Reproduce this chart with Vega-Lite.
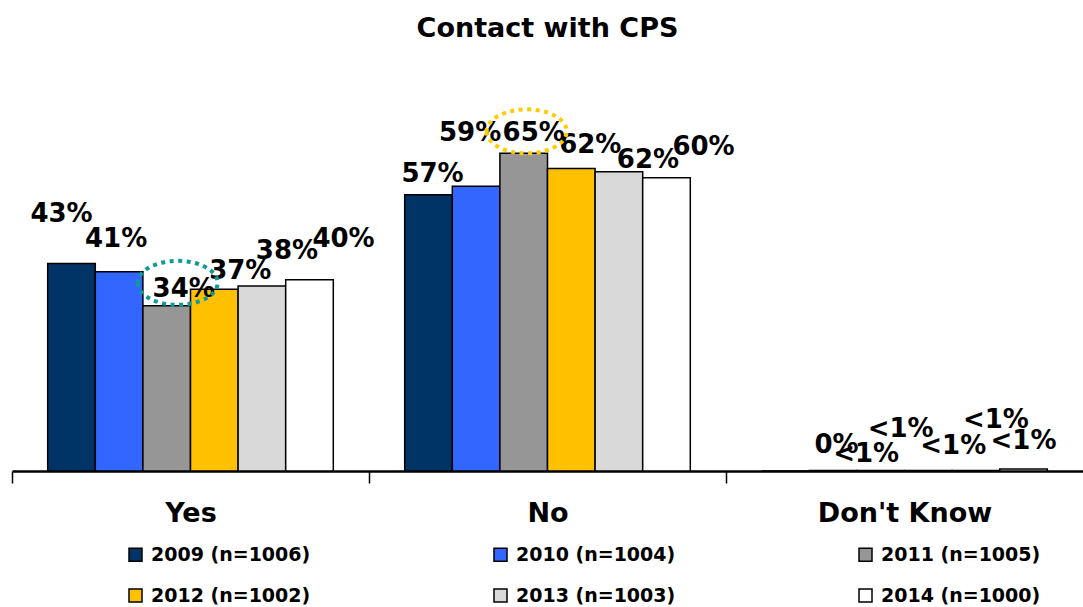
{
  "$schema": "https://vega.github.io/schema/vega-lite/v6.json",
  "width": 1071,
  "height": 340,
  "autosize": {"type": "none"},
  "padding": {"left": 12, "top": 131, "right": 0, "bottom": 136},
  "background": "white",
  "title": {
    "text": "Contact with CPS",
    "font": "DejaVu Sans",
    "fontSize": 27,
    "fontWeight": "bold",
    "color": "black",
    "anchor": "middle",
    "frame": "group",
    "offset": 58
  },
  "config": {"view": {"stroke": null}},
  "data": {
    "values": [
      {"category": "Yes", "year": "2009 (n=1006)", "value": 42.7, "label": "43%"},
      {"category": "Yes", "year": "2010 (n=1004)", "value": 41.0, "label": "41%"},
      {"category": "Yes", "year": "2011 (n=1005)", "value": 34.0, "label": "34%"},
      {"category": "Yes", "year": "2012 (n=1002)", "value": 37.4, "label": "37%"},
      {"category": "Yes", "year": "2013 (n=1003)", "value": 38.1, "label": "38%"},
      {"category": "Yes", "year": "2014 (n=1000)", "value": 39.4, "label": "40%"},
      {"category": "No", "year": "2009 (n=1006)", "value": 56.9, "label": "57%"},
      {"category": "No", "year": "2010 (n=1004)", "value": 58.6, "label": "59%"},
      {"category": "No", "year": "2011 (n=1005)", "value": 65.4, "label": "65%"},
      {"category": "No", "year": "2012 (n=1002)", "value": 62.3, "label": "62%"},
      {"category": "No", "year": "2013 (n=1003)", "value": 61.6, "label": "62%"},
      {"category": "No", "year": "2014 (n=1000)", "value": 60.4, "label": "60%"},
      {"category": "Don't Know", "year": "2009 (n=1006)", "value": 0, "label": "0%"},
      {"category": "Don't Know", "year": "2010 (n=1004)", "value": 0.1, "label": "<1%"},
      {"category": "Don't Know", "year": "2011 (n=1005)", "value": 0.1, "label": "<1%"},
      {"category": "Don't Know", "year": "2012 (n=1002)", "value": 0.1, "label": "<1%"},
      {"category": "Don't Know", "year": "2013 (n=1003)", "value": 0.1, "label": "<1%"},
      {"category": "Don't Know", "year": "2014 (n=1000)", "value": 0.4, "label": "<1%"}
    ]
  },
  "encoding": {
    "x": {
      "field": "category",
      "type": "nominal",
      "sort": ["Yes", "No", "Don't Know"],
      "scale": {"paddingInner": 0.2, "paddingOuter": 0.1},
      "axis": {
        "title": null,
        "labelAngle": 0,
        "labelFont": "DejaVu Sans",
        "labelFontSize": 27,
        "labelFontWeight": "bold",
        "labelColor": "black",
        "labelPadding": 17,
        "labelOffset": 178.5,
        "tickOffset": -178.5,
        "domainColor": "black",
        "domainWidth": 2.5,
        "tickColor": "black",
        "tickWidth": 1.5,
        "tickSize": 12,
        "grid": false
      }
    },
    "xOffset": {
      "field": "year",
      "type": "nominal",
      "scale": {"paddingInner": 0, "paddingOuter": 0}
    },
    "y": {
      "field": "value",
      "type": "quantitative",
      "scale": {"domain": [0, 70]},
      "axis": null
    }
  },
  "layer": [
    {
      "mark": {"type": "bar", "stroke": "black", "strokeWidth": 1.5},
      "encoding": {
        "color": {
          "field": "year",
          "type": "nominal",
          "scale": {
            "domain": ["2009 (n=1006)", "2010 (n=1004)", "2011 (n=1005)", "2012 (n=1002)", "2013 (n=1003)", "2014 (n=1000)"],
            "range": ["#003366", "#3366FF", "#969696", "#FFC000", "#D9D9D9", "#FFFFFF"]
          },
          "legend": {
            "title": null,
            "orient": "none",
            "direction": "horizontal",
            "legendX": 114,
            "legendY": 414,
            "columns": 3,
            "columnPadding": 180,
            "rowPadding": 21,
            "symbolType": "square",
            "symbolSize": 169,
            "symbolStrokeColor": "black",
            "symbolStrokeWidth": 1.5,
            "labelFont": "DejaVu Sans",
            "labelFontSize": 19,
            "labelFontWeight": "bold",
            "labelColor": "black",
            "labelLimit": 400,
            "labelOffset": 6,
            "padding": 0
          }
        }
      }
    },
    {
      "mark": {
        "type": "text",
        "font": "DejaVu Sans",
        "fontSize": 26,
        "fontWeight": "bold",
        "color": "black",
        "baseline": "middle",
        "align": "center",
        "dx": {"expr": "[[-10,-3,17,26,25,34],[4,-6,10,19,29,37],[51,33,20,25,20,0]][datum.category == 'Yes' ? 0 : (datum.category == 'No' ? 1 : 2)][indexof(['2009','2010','2011','2012','2013','2014'], slice(datum.year,0,4))]"},
        "dy": {"expr": "[[-50,-33,-17,-18,-35,-41],[-21,-53,-20,-23,-12,-31],[-26,-17,-42,-25,-51,-28]][datum.category == 'Yes' ? 0 : (datum.category == 'No' ? 1 : 2)][indexof(['2009','2010','2011','2012','2013','2014'], slice(datum.year,0,4))]"}
      },
      "encoding": {"text": {"field": "label"}}
    },
    {
      "transform": [{"filter": "slice(datum.year,0,4) == '2011' && datum.category == 'Yes'"}],
      "mark": {
        "type": "point",
        "shape": "M -0.725 -0.575 A 1 0.55 0 1 0 1.275 -0.575 A 1 0.55 0 1 0 -0.725 -0.575 Z",
        "size": 6400,
        "filled": false,
        "strokeWidth": 4,
        "strokeDash": [4, 4.5],
        "opacity": 1,
        "stroke": "#0E9A9A"
      },
      "encoding": {}
    },
    {
      "transform": [{"filter": "slice(datum.year,0,4) == '2011' && datum.category == 'No'"}],
      "mark": {
        "type": "point",
        "shape": "M -0.925 -0.55 A 1 0.55 0 1 0 1.075 -0.55 A 1 0.55 0 1 0 -0.925 -0.55 Z",
        "size": 6400,
        "filled": false,
        "strokeWidth": 4,
        "strokeDash": [4, 4.5],
        "opacity": 1,
        "stroke": "#FFCC00"
      },
      "encoding": {}
    }
  ]
}
